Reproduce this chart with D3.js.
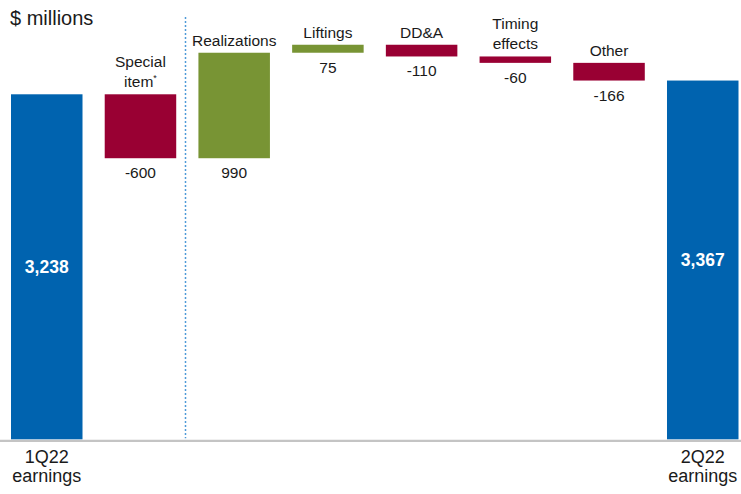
<!DOCTYPE html>
<html>
<head>
<meta charset="utf-8">
<script src="https://cdn.jsdelivr.net/npm/d3@7/dist/d3.min.js"></script>
<style>
  html, body { margin: 0; padding: 0; background: #fff; }
  svg { display: block; font-family: "Liberation Sans", Arial, sans-serif; }
</style>
</head>
<body>
<svg id="chart" width="741" height="494"></svg>
<script>
// Earnings bridge, $ millions
const categories = ["1Q22 earnings", "Special item", "Realizations", "Liftings", "DD&A", "Timing effects", "Other", "2Q22 earnings"];
const values     = [3238, -600, 990, 75, -110, -60, -166, 3367];
const kinds      = ["total", "delta", "delta", "delta", "delta", "delta", "delta", "total"];
const topLabels  = [null, ["Special", "item"], ["Realizations"], ["Liftings"], ["DD&A"], ["Timing", "effects"], ["Other"], null];
const bottomLabels = [["1Q22", "earnings"], null, null, null, null, null, null, ["2Q22", "earnings"]];

const colors = { total: "#0063af", up: "#789434", down: "#990033" };
const textColor = "#1a1a1a";

const svg = d3.select("#chart");
const baseY = 439.3;
const pxPerUnit = 0.10655;

const x = d3.scaleBand()
  .domain(categories)
  .range([11, 738.5])
  .paddingInner(0.237)
  .paddingOuter(0);

const y = d3.scaleLinear()
  .domain([0, 4000])
  .range([baseY, baseY - 4000 * pxPerUnit]);

// running totals for the floating bars
let running = 0;
const bars = categories.map((c, i) => {
  let start, end;
  if (kinds[i] === "total") { start = 0; end = values[i]; running = values[i]; }
  else { start = running; end = running + values[i]; running = end; }
  return { cat: c, value: values[i], kind: kinds[i], lo: Math.min(start, end), hi: Math.max(start, end), i };
});

// baseline
svg.append("line")
  .attr("x1", 0).attr("x2", 741)
  .attr("y1", baseY + 1.5).attr("y2", baseY + 1.5)
  .attr("stroke", "#c4c4c4").attr("stroke-width", 2.2);

// separator between special item and operating drivers
const sepX = Math.round((x("Special item") + x.bandwidth() + x("Realizations")) / 2) - 1.5;
svg.append("line")
  .attr("x1", sepX).attr("x2", sepX)
  .attr("y1", 17).attr("y2", baseY - 1)
  .attr("stroke", "#4f9ad8").attr("stroke-width", 1.5)
  .attr("stroke-dasharray", "2,2");

// bars
svg.selectAll("rect.bar").data(bars).enter().append("rect")
  .attr("class", "bar")
  .attr("x", d => x(d.cat))
  .attr("width", x.bandwidth())
  .attr("y", d => y(d.hi))
  .attr("height", d => y(d.lo) - y(d.hi))
  .attr("fill", d => d.kind === "total" ? colors.total : (d.value >= 0 ? colors.up : colors.down));

const fmt = d3.format(",");

// totals: white bold value inside the bar
bars.filter(d => d.kind === "total").forEach(d => {
  svg.append("text")
    .attr("x", x(d.cat) + x.bandwidth() / 2)
    .attr("y", (y(d.hi) + y(d.lo)) / 2)
    .attr("dy", "0.35em")
    .attr("text-anchor", "middle")
    .attr("fill", "#fff")
    .attr("font-weight", "bold")
    .attr("font-size", "17.5px")
    .text(fmt(d.value));
});

// deltas: name above, value below
bars.filter(d => d.kind === "delta").forEach(d => {
  const cx = x(d.cat) + x.bandwidth() / 2;
  const lines = topLabels[d.i];
  lines.forEach((ln, k) => {
    const t = svg.append("text")
      .attr("x", cx)
      .attr("y", y(d.hi) - 7 - (lines.length - 1 - k) * 20)
      .attr("text-anchor", "middle")
      .attr("fill", textColor)
      .attr("font-size", "15.5px")
      .text(ln);
    if (d.cat === "Special item" && k === 1) {
      t.append("tspan").attr("dy", "-6").attr("font-size", "9px").text("*");
    }
  });
  svg.append("text")
    .attr("x", cx)
    .attr("y", y(d.lo) + 20)
    .attr("text-anchor", "middle")
    .attr("fill", textColor)
    .attr("font-size", "15.5px")
    .text(d.value);
});

// category labels under the totals
bars.filter(d => bottomLabels[d.i]).forEach(d => {
  const cx = x(d.cat) + x.bandwidth() / 2;
  bottomLabels[d.i].forEach((ln, k) => {
    svg.append("text")
      .attr("x", cx)
      .attr("y", 463 + k * 19)
      .attr("text-anchor", "middle")
      .attr("fill", textColor)
      .attr("font-size", "18px")
      .text(ln);
  });
});

// unit title
svg.append("text")
  .attr("x", 10).attr("y", 25)
  .attr("fill", textColor)
  .attr("font-size", "20px")
  .text("$ millions");
</script>
</body>
</html>
